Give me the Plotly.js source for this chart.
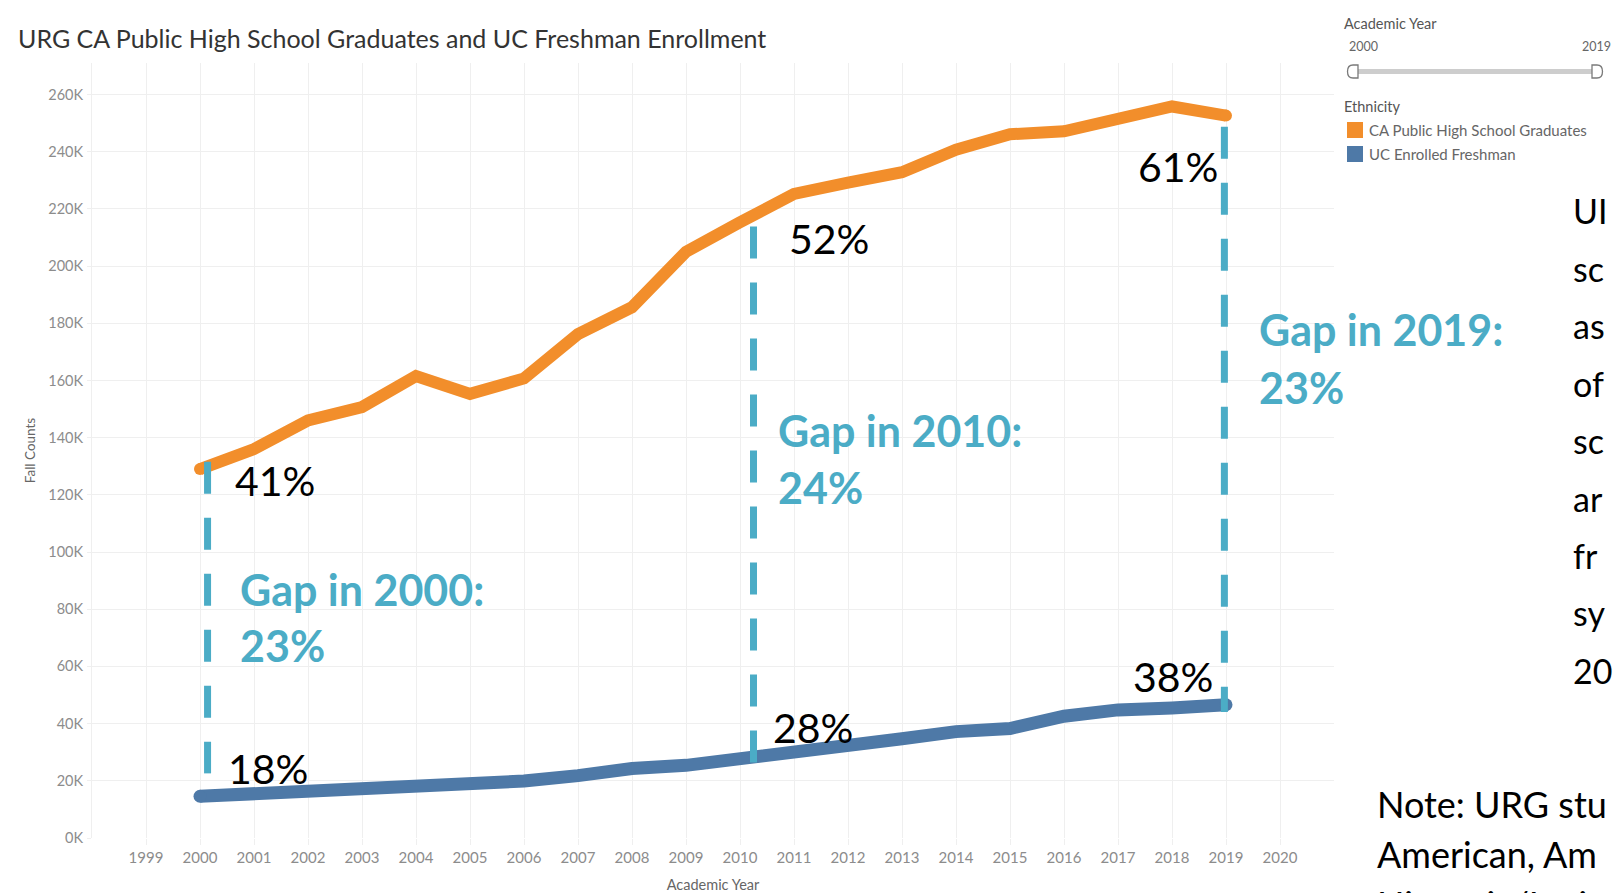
<!DOCTYPE html>
<html>
<head>
<meta charset="utf-8">
<script src="https://cdn.plot.ly/plotly-3.0.1.min.js"></script>
<style>
  html, body { margin: 0; padding: 0; background: #fff; overflow: hidden; }
  #chart { width: 1614px; height: 893px; }
</style>
</head>
<body>
<div id="chart"></div>
<script>
// ---------------- DATA ----------------
const years = [2000, 2001, 2002, 2003, 2004, 2005, 2006, 2007, 2008, 2009,
               2010, 2011, 2012, 2013, 2014, 2015, 2016, 2017, 2018, 2019];
const hsGraduates = [129000, 136000, 146000, 150700, 161500, 155300, 160700, 176200, 185600, 205000,
                     215300, 225200, 229200, 232800, 240700, 246100, 247100, 251800, 255800, 252600];
const ucFreshman = [14600, 15300, 16700, 17800, 18200, 18900, 19900, 21800, 24300, 25400,
                    27500, 30000, 32200, 34700, 37200, 38300, 42600, 44800, 45500, 46600];

const xTickValues = [1999, 2000, 2001, 2002, 2003, 2004, 2005, 2006, 2007, 2008, 2009, 2010,
                     2011, 2012, 2013, 2014, 2015, 2016, 2017, 2018, 2019, 2020];
const yTickValues = [0, 20000, 40000, 60000, 80000, 100000, 120000, 140000, 160000, 180000,
                     200000, 220000, 240000, 260000];
const yTickLabels = ['0K', '20K', '40K', '60K', '80K', '100K', '120K', '140K', '160K', '180K',
                     '200K', '220K', '240K', '260K'];

// gap markers (dashed lines): year position, top value, bottom value
const gapX = [2000.14, 2010.25, 2018.97];
const gapTop = [131600, 213800, 248700];
const gapBottom = [22600, 25900, 44100];
const gapTitles = ['Gap in 2000:', 'Gap in 2010:', 'Gap in 2019:'];
const gapValues = ['23%', '24%', '23%'];
const hsShareLabels = ['41%', '52%', '61%'];
const ucShareLabels = ['18%', '28%', '38%'];

const seriesNames = ['CA Public High School Graduates', 'UC Enrolled Freshman'];
const titleText = 'URG CA Public High School Graduates and UC Freshman Enrollment';
// slide text visible at the right edge of the picture (cut by the frame)
const sideWords = ['UI', 'sc', 'as', 'of', 'sc', 'ar', 'fr', 'sy', '20'];
const noteLines = ['Note: URG stu', 'American, Am', 'Hispanic/Lati'];

// ---------------- STYLE / LAYOUT ----------------
const ORANGE = '#F28E2B', BLUE = '#4E79A7', TEAL = '#4BACC6';
const FONT = 'Lato, "Noto Sans", "Open Sans", sans-serif';
const W = 1614, H = 893, ML = 92, MR = 280, MT = 63, MB = 55;
const PW = W - ML - MR, PH = H - MT - MB;
const fx = px => (px - ML) / PW;
const fy = py => (H - MB - py) / PH;

function endSizes(arr, s) { return arr.map((_, i) => (i === 0 || i === arr.length - 1) ? s : 0); }

const traces = [
  { x: years, y: hsGraduates, name: seriesNames[0], mode: 'lines+markers',
    line: { color: ORANGE, width: 12 },
    marker: { color: ORANGE, size: endSizes(years, 12), opacity: 1, line: { width: 0, color: ORANGE } },
    hoverinfo: 'x+y' },
  { x: years, y: ucFreshman, name: seriesNames[1], mode: 'lines+markers',
    line: { color: BLUE, width: 13 },
    marker: { color: BLUE, size: endSizes(years, 13), opacity: 1, line: { width: 0, color: BLUE } },
    hoverinfo: 'x+y' }
];
gapX.forEach((gx, i) => {
  traces.push({ x: [gx, gx], y: [gapTop[i], gapBottom[i]], mode: 'lines',
    line: { color: TEAL, width: 7, dash: '32px,24px' }, hoverinfo: 'skip' });
});

function ann(text, px, py, size, color, bold, xanchor) {
  return { text: bold ? '<b>' + text + '</b>' : text, x: fx(px), y: fy(py), xref: 'paper', yref: 'paper',
    xanchor: xanchor || 'left', yanchor: 'middle', showarrow: false,
    font: { family: FONT, size: size, color: color } };
}

const annotations = [];
// share labels
const hsLblPos = [[233, 481], [787, 239], [1136, 167]];
const ucLblPos = [[226, 768], [771, 727], [1131, 676]];
hsShareLabels.forEach((t, i) => annotations.push(ann(t, hsLblPos[i][0], hsLblPos[i][1], 41, '#000')));
ucShareLabels.forEach((t, i) => annotations.push(ann(t, ucLblPos[i][0], ucLblPos[i][1], 41, '#000')));
// gap labels
const gapLblPos = [[238, 589, 645], [776, 430, 487], [1257, 329, 387]];
gapTitles.forEach((t, i) => {
  annotations.push(ann(t, gapLblPos[i][0], gapLblPos[i][1], 43, TEAL, true));
  annotations.push(ann(gapValues[i], gapLblPos[i][0], gapLblPos[i][2], 43, TEAL, true));
});
// side text fragments
sideWords.forEach((t, i) => annotations.push(ann(t, 1571, 211 + i * 57.4, 34, '#000')));
noteLines.forEach((t, i) => annotations.push(ann(t, 1375, 804 + i * 50, 36, '#000')));
// filter / legend panel
annotations.push(ann('Academic Year', 1342, 23, 14.5, '#555'));
annotations.push(ann(String(years[0]), 1347, 47, 12.5, '#666'));
annotations.push(ann(String(years[years.length - 1]), 1613, 47, 12.5, '#666', false, 'right'));
annotations.push(ann('Ethnicity', 1342, 106, 14.5, '#555'));
annotations.push(ann(seriesNames[0], 1367, 130, 15, '#666'));
annotations.push(ann(seriesNames[1], 1367, 154, 15, '#666'));

function pathPx(cmds) {
  return cmds.map(c => c[0] + ' ' + c.slice(1).reduce((acc, v, j) => {
    acc.push(j % 2 === 0 ? fx(v).toFixed(5) : fy(v).toFixed(5)); return acc;
  }, []).join(',')).join(' ') + ' Z';
}
function rectPx(x0, y0, x1, y1, color) {
  return { type: 'rect', xref: 'paper', yref: 'paper', x0: fx(x0), x1: fx(x1), y0: fy(y1), y1: fy(y0),
    fillcolor: color, line: { width: 0 } };
}

const shapes = [
  // white text-box background hiding gridlines
  Object.assign(rectPx(767, 389, 1117, 525, '#ffffff'), { layer: 'between' }),
  // slider track
  { type: 'line', xref: 'paper', yref: 'paper', x0: fx(1356), x1: fx(1594), y0: fy(71.5), y1: fy(71.5),
    line: { color: '#cdcdcd', width: 5 } },
  // slider handles
  { type: 'path', xref: 'paper', yref: 'paper', fillcolor: '#ffffff', line: { color: '#7a7a7a', width: 1.3 },
    path: pathPx([['M', 1358, 65], ['L', 1353, 65], ['Q', 1347.5, 65, 1347.5, 71.5], ['Q', 1347.5, 78, 1353, 78], ['L', 1358, 78]]) },
  { type: 'path', xref: 'paper', yref: 'paper', fillcolor: '#ffffff', line: { color: '#7a7a7a', width: 1.3 },
    path: pathPx([['M', 1592, 65], ['L', 1597, 65], ['Q', 1602.5, 65, 1602.5, 71.5], ['Q', 1602.5, 78, 1597, 78], ['L', 1592, 78]]) },
  // legend swatches
  rectPx(1347, 122, 1363, 138, ORANGE),
  rectPx(1347, 146, 1363, 162, BLUE)
];

const layout = {
  width: W, height: H,
  margin: { l: ML, r: MR, t: MT, b: MB, pad: 0 },
  paper_bgcolor: '#ffffff', plot_bgcolor: '#ffffff',
  showlegend: false,
  font: { family: FONT, color: '#888' },
  title: { text: titleText, x: 18 / W, xanchor: 'left', y: 1 - 39 / H, yanchor: 'middle',
           font: { family: FONT, size: 25, color: '#333' } },
  xaxis: {
    range: [1998, 2021], tickmode: 'array', tickvals: xTickValues, ticktext: xTickValues.map(String),
    showgrid: true, gridcolor: '#efefef', gridwidth: 1, zeroline: false,
    showline: false, ticks: 'outside', ticklen: 6, tickcolor: '#efefef',
    tickfont: { family: FONT, size: 15, color: '#8c8c8c' },
    title: { text: 'Academic Year', standoff: 18, font: { family: FONT, size: 14.5, color: '#666' } },
    fixedrange: true
  },
  yaxis: {
    range: [0, 271000], tickmode: 'array', tickvals: yTickValues, ticktext: yTickLabels,
    showgrid: true, gridcolor: '#efefef', gridwidth: 1, zeroline: false,
    showline: true, linecolor: '#efefef', linewidth: 1,
    ticks: 'outside', ticklen: 4, tickcolor: '#efefef', ticklabelstandoff: 1,
    tickfont: { family: FONT, size: 14.5, color: '#8c8c8c' },
    title: { text: 'Fall Counts', standoff: 9, font: { family: FONT, size: 13.5, color: '#666' } },
    fixedrange: true
  },
  annotations: annotations,
  shapes: shapes
};

Plotly.newPlot('chart', traces, layout, { displayModeBar: false, staticPlot: true });
</script>
</body>
</html>
